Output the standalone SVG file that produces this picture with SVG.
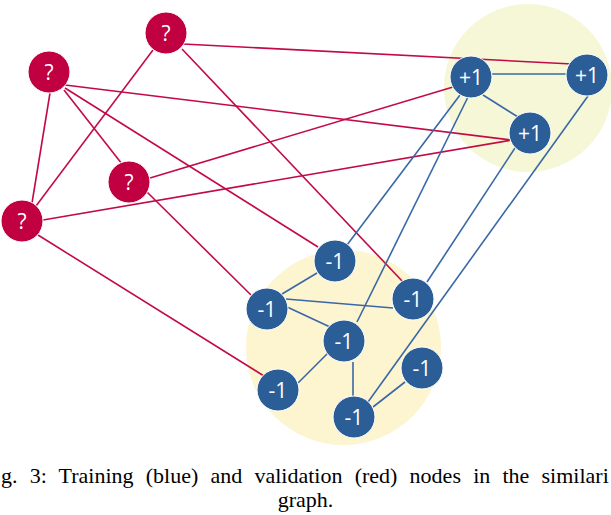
<svg xmlns="http://www.w3.org/2000/svg" width="611" height="515" viewBox="0 0 611 515">
<style>
.bg{stroke:none}
.er{stroke:#c20a47;stroke-width:1.6;fill:none}
.eb{stroke:#3a68a6;stroke-width:1.6;fill:none}
.nr circle{fill:#c00040;stroke:#fff;stroke-width:1}
.nb circle{fill:#2b5d97;stroke:#fff;stroke-width:1}
.lbl{font-family:"Open Sans","DejaVu Sans",sans-serif;font-size:21px;fill:#fff;text-anchor:middle}
.cap{font-family:"Liberation Serif","Times New Roman",serif;font-size:22px;fill:#000}
</style>
<rect width="611" height="515" fill="#fff"/>
<g id="clusters">
<circle class="bg" cx="528" cy="88" r="84" fill="#f5f7d6"/>
<circle class="bg" cx="343.5" cy="347.5" r="97.5" fill="#fdf4d0"/>
</g>
<g id="connectors">
<line class="er" x1="183" y1="44" x2="572" y2="64"/>
<line class="er" x1="65" y1="85" x2="511" y2="140"/>
<line class="er" x1="65" y1="88" x2="318" y2="247"/>
<line class="er" x1="64" y1="90" x2="122" y2="164"/>
<line class="er" x1="50" y1="93" x2="32" y2="203"/>
<line class="er" x1="153" y1="50" x2="36" y2="206"/>
<line class="er" x1="182" y1="49" x2="404" y2="283"/>
<line class="er" x1="150" y1="178" x2="453" y2="87"/>
<line class="er" x1="147" y1="192" x2="251" y2="295"/>
<line class="er" x1="43" y1="220" x2="512" y2="140"/>
<line class="er" x1="38" y1="235" x2="264" y2="376"/>
<line class="eb" x1="492" y1="74" x2="566" y2="74"/>
<line class="eb" x1="483" y1="95" x2="518" y2="117"/>
<line class="eb" x1="460" y1="95" x2="347" y2="245"/>
<line class="eb" x1="468" y1="97" x2="357" y2="322"/>
<line class="eb" x1="515" y1="148" x2="427" y2="282"/>
<line class="eb" x1="588" y1="96" x2="368" y2="402"/>
<line class="eb" x1="317" y1="273" x2="282" y2="294"/>
<line class="eb" x1="286" y1="299" x2="393" y2="308"/>
<line class="eb" x1="285" y1="306" x2="330" y2="327"/>
<line class="eb" x1="328" y1="353" x2="298" y2="383"/>
<line class="eb" x1="353" y1="362" x2="353" y2="397"/>
<line class="eb" x1="405" y1="382" x2="373" y2="407"/>
</g>
<g id="q1" class="nr"><circle cx="166" cy="33" r="21"/><text class="lbl" x="166" y="40.5">?</text></g>
<g id="q2" class="nr"><circle cx="49" cy="72" r="21"/><text class="lbl" x="49" y="79.5">?</text></g>
<g id="q3" class="nr"><circle cx="129" cy="182" r="21"/><text class="lbl" x="129" y="189.5">?</text></g>
<g id="q4" class="nr"><circle cx="22" cy="221" r="21"/><text class="lbl" x="22" y="228.5">?</text></g>
<g id="p1" class="nb"><circle cx="471" cy="77" r="21"/><text class="lbl" x="471" y="84.5">+1</text></g>
<g id="p2" class="nb"><circle cx="587" cy="75" r="21"/><text class="lbl" x="587" y="82.5">+1</text></g>
<g id="p3" class="nb"><circle cx="530" cy="133" r="21"/><text class="lbl" x="530" y="140.5">+1</text></g>
<g id="n1" class="nb"><circle cx="335" cy="261" r="21"/><text class="lbl" x="335" y="268.5">-1</text></g>
<g id="n2" class="nb"><circle cx="267" cy="309" r="21"/><text class="lbl" x="267" y="316.5">-1</text></g>
<g id="n3" class="nb"><circle cx="413" cy="299" r="21"/><text class="lbl" x="413" y="306.5">-1</text></g>
<g id="n4" class="nb"><circle cx="344" cy="341" r="21"/><text class="lbl" x="344" y="348.5">-1</text></g>
<g id="n5" class="nb"><circle cx="278" cy="390" r="21"/><text class="lbl" x="278" y="397.5">-1</text></g>
<g id="n6" class="nb"><circle cx="422" cy="368" r="21"/><text class="lbl" x="422" y="375.5">-1</text></g>
<g id="n7" class="nb"><circle cx="354" cy="417" r="21"/><text class="lbl" x="354" y="424.5">-1</text></g>
<g id="caption">
<text class="cap" x="1" y="483" word-spacing="6.7">g. 3: Training (blue) and validation (red) nodes in the similari</text>
<text class="cap" x="305.5" y="507" text-anchor="middle">graph.</text>
</g>
</svg>
